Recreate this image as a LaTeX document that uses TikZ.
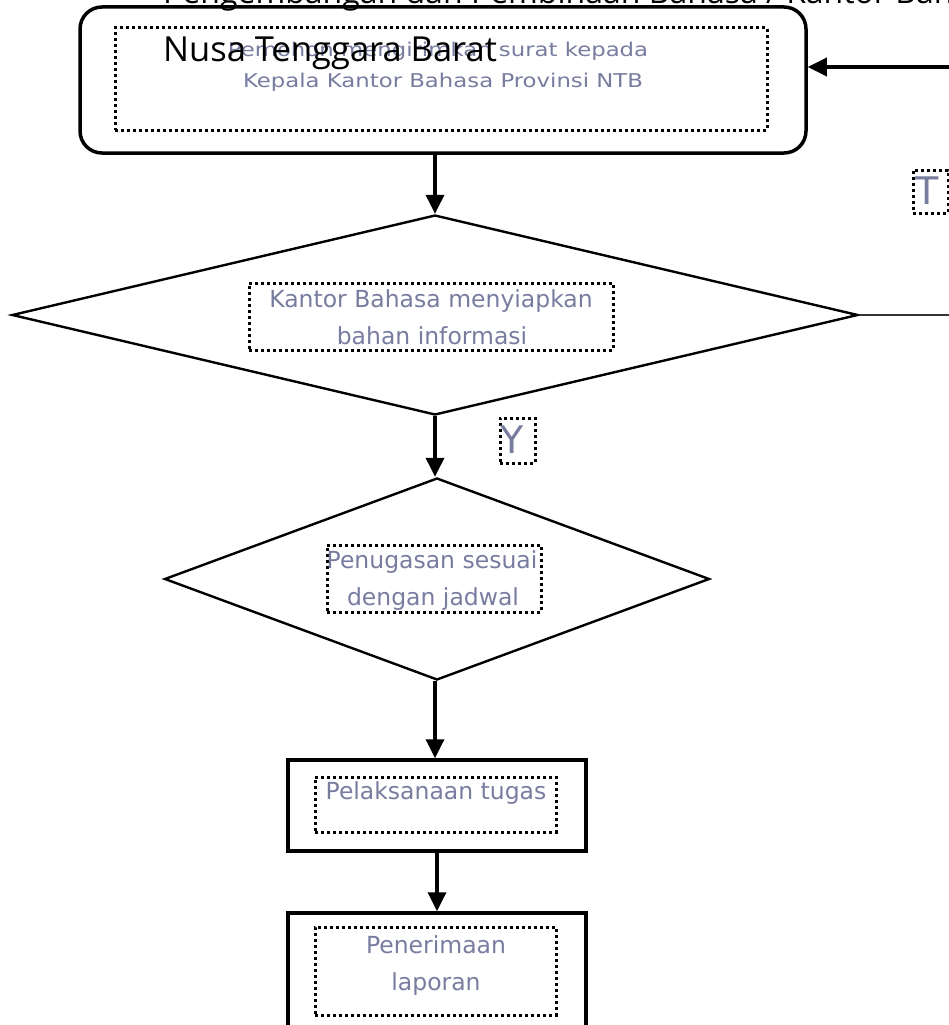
\documentclass[tikz,border=0pt]{standalone}
\usepackage{fontspec}
\newfontfamily\titlefont{Open Sans}
\newfontfamily\boxfont{DejaVu Sans}
\usetikzlibrary{shapes.geometric,arrows.meta}
\definecolor{boxtext}{RGB}{120,125,160}
\tikzset{
  frame/.style={draw=black, line width=3.5pt, inner sep=0pt},
  roundframe/.style={frame, rounded corners=22pt},
  decision/.style={draw=black, line width=2.4pt, diamond, inner sep=0pt},
  dotbox/.style={draw=black, line width=3pt, dash pattern=on 3pt off 3pt, inner sep=0pt},
  boxtxt/.style={font=\boxfont\fontsize{23.5}{27}\selectfont, text=boxtext, anchor=base, inner sep=0pt},
  toptxt/.style={font=\boxfont\fontsize{19}{23}\selectfont, text=boxtext, anchor=base, inner sep=0pt},
  labeltxt/.style={font=\boxfont\fontsize{38}{42}\selectfont, text=boxtext, inner sep=0pt},
  titletxt/.style={font=\titlefont\fontsize{32}{38}\selectfont, anchor=base west, inner sep=0pt},
  flow/.style={line width=3.5pt, -{Triangle[width=18pt,length=19pt]}},
  backflow/.style={line width=2.2pt, draw=black!80},
}
\begin{document}
\begin{tikzpicture}[x=1pt,y=-1pt]
\useasboundingbox (0,0) rectangle (949,1025);
\fill[white] (0,0) rectangle (949,1025);

% title text (cut off at the top)
\node[titletxt] (title1) at (163,4) {Pengembangan dan Pembinaan Bahasa / Kantor Bahasa Provinsi};

% top rounded box
\node[roundframe, minimum width=726pt, minimum height=146pt] (top) at (443,80) {};
\node[dotbox, minimum width=652pt, minimum height=102pt] (topdots) at (441,79) {};
\node[toptxt] (t1a) at (438,57) {\scalebox{1.2}[1]{Pemohon mengirimkan surat kepada}};
\node[toptxt] (t1b) at (443,88) {\scalebox{1.2}[1]{Kepala Kantor Bahasa Provinsi NTB}};
\node[titletxt, font=\titlefont\fontsize{34.5}{40}\selectfont] (title2) at (163,62) {Nusa Tenggara Barat};

% decision 1
\node[decision, minimum width=846pt, minimum height=200pt] (d1) at (435,315) {};
\node[dotbox, minimum width=364pt, minimum height=67pt] (d1dots) at (431,316.5) {};
\node[boxtxt] (d1a) at (431,307) {Kantor Bahasa menyiapkan};
\node[boxtxt] (d1b) at (432,344) {bahan informasi};

% decision 2
\node[decision, minimum width=545pt, minimum height=202pt] (d2) at (437,579) {};
\node[dotbox, minimum width=214pt, minimum height=67pt] (d2dots) at (434,578.5) {};
\node[boxtxt] (d2a) at (432,568) {Penugasan sesuai};
\node[boxtxt] (d2b) at (433,605) {dengan jadwal};

% process boxes
\node[frame, minimum width=298pt, minimum height=91pt] (r3) at (437,805.5) {};
\node[dotbox, minimum width=241pt, minimum height=55pt] (r3dots) at (435.5,804.5) {};
\node[boxtxt] (r3a) at (436,799) {Pelaksanaan tugas};

\node[frame, minimum width=298pt, minimum height=137pt] (r4) at (437,981.5) {};
\node[dotbox, minimum width=241pt, minimum height=88pt] (r4dots) at (435.5,971) {};
\node[boxtxt] (r4a) at (436,953) {Penerimaan};
\node[boxtxt] (r4b) at (436,990) {laporan};

% labels
\node[dotbox, minimum width=35pt, minimum height=43pt] (tbox) at (930.5,191.5) {};
\node[labeltxt] (tlab) at (927,191) {T};
\node[dotbox, minimum width=35pt, minimum height=45pt] (ybox) at (517.5,440.5) {};
\node[labeltxt] (ylab) at (512,440) {Y};

% connectors
\draw[flow] (d1.north |- top.south) -- (d1.north);
\draw[flow] (d1.south) -- (d1.south |- d2.north);
\draw[flow] (d1.south |- d2.south) -- (d1.south |- r3.north);
\draw[flow] (r3.south) -- (r4.north);

\coordinate (rc) at (990,315);
\coordinate (ri) at (990,67);
\draw[backflow] (d1.east) -- (rc);
\draw[flow] (rc) -- (ri) -- (ri -| top.east);
\end{tikzpicture}
\end{document}
